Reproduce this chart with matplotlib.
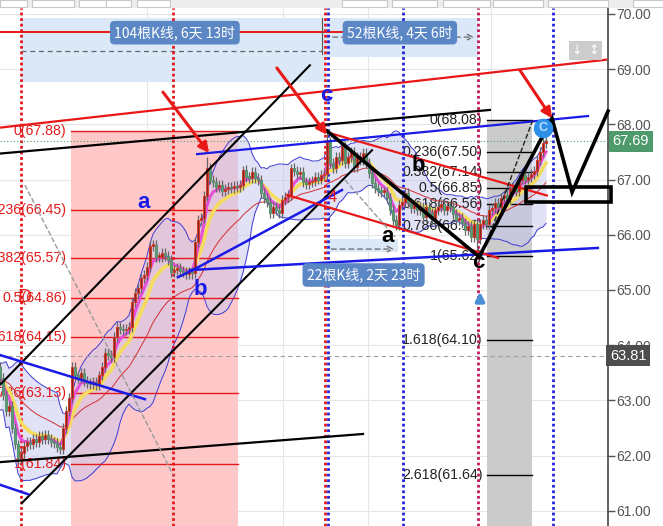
import matplotlib
matplotlib.use('Agg')
import matplotlib.pyplot as plt
import matplotlib.transforms as mtransforms
from matplotlib.patches import Rectangle
import numpy as np
import pandas as pd

plt.rcParams['font.family'] = ['Liberation Sans', 'DejaVu Sans']
CJK = ['Noto Sans CJK SC', 'DejaVu Sans']

# ---------------- data (bar index, price) ----------------
closes = [
    63.40, 63.10, 62.80, 62.90, 62.50, 62.20, 61.95, 62.05, 62.18, 62.25,
    62.20, 62.30, 62.25, 62.35, 62.30, 62.38, 62.30, 62.25, 62.22, 62.15,
    62.12, 62.50, 62.80, 63.05, 63.60, 63.45, 63.40, 63.50, 63.35, 63.32,
    63.30, 63.33, 63.28, 63.45, 63.60, 63.85, 63.82, 63.78, 64.15, 64.33,
    64.30, 64.27, 64.30, 64.32, 64.78, 64.94, 65.04, 65.21, 65.27, 65.42,
    65.80, 65.82, 65.60, 65.60, 65.67, 65.62, 65.55, 65.33, 65.36, 65.40,
    65.35, 65.32, 65.28, 65.33, 65.30, 65.87, 66.26, 66.30, 66.70, 67.20,
    67.00, 66.95, 66.87, 66.90, 66.80, 66.82, 66.86, 66.84, 66.88, 66.86,
    66.90, 67.17, 67.05, 67.03, 67.13, 67.03, 66.99, 66.75, 66.66, 66.60,
    66.39, 66.50, 66.45, 66.40, 66.63, 66.69, 66.72, 67.20, 67.15, 67.10,
    67.13, 66.95, 66.92, 66.95, 66.98, 67.04, 67.00, 67.08, 67.10, 67.68,
    67.30, 67.20, 67.40, 67.35, 67.60, 67.30, 67.40, 67.50, 67.23, 67.40,
    67.35, 67.48, 67.30, 67.12, 66.93, 66.85, 66.80, 66.78, 66.78, 66.67,
    66.45, 66.27, 66.18, 66.54, 66.60, 66.75, 66.57, 66.48, 66.53, 66.44,
    66.50, 66.32, 66.50, 66.40, 66.27, 66.45, 66.50, 66.56, 66.45, 66.52,
    66.50, 66.38, 66.27, 66.30, 66.22, 66.08, 66.15, 65.96, 66.20, 65.92,
    66.20, 66.27, 66.20, 66.45, 66.48, 66.57, 66.50, 66.67, 66.72, 66.65,
    66.85, 66.87, 66.80, 67.00, 67.08, 67.00, 67.05, 67.10, 67.15, 67.35,
    67.50, 67.66, 67.69,
]
first_open = 63.60
special_highs = {69: 67.40, 81: 67.25, 97: 67.28, 109: 67.88, 181: 67.80, 182: 68.08}
special_lows = {6: 61.84, 64: 65.20, 90: 66.30, 132: 66.08, 159: 65.62}

price_ticks = [61, 62, 63, 64, 65, 66, 67, 68, 69, 70]
last_price = 67.69
ref_price = 63.81

fib_left_prices = [67.88, 66.45, 65.57, 64.86, 64.15, 63.13, 61.84]
fib_left_labels = ['0(67.88)', '0.236(66.45)', '0.382(65.57)', '0.5(64.86)',
                   '0.618(64.15)', '0.786(63.13)', '1(61.84)']
fib_right_prices = [68.08, 67.50, 67.14, 66.85, 66.56, 66.15, 65.62, 64.10, 61.64]
fib_right_labels = ['0(68.08)', '0.236(67.50)', '0.382(67.14)', '0.5(66.85)',
                    '0.618(66.56)', '0.786(66.15)', '1(65.62)', '1.618(64.10)',
                    '2.618(61.64)']

# ---------------- figure ----------------
W, H = 663, 526
fig = plt.figure(figsize=(W / 100, H / 100), dpi=100)
fig.patch.set_facecolor('white')
ax = fig.add_axes([0, 0, 607.7 / W, 518 / H])
XMAX = 202.57
ax.set_xlim(0, XMAX)
ax.set_ylim(60.723, 70.107)

# toolbar strip at top
fig.patches.append(Rectangle((0, 518 / H), 1, 8 / H, transform=fig.transFigure,
                             facecolor='#ededed', edgecolor='none', zorder=0))
for a, b in [(0, 27), (32, 74), (79, 106), (106, 131), (137, 170), (342, 387),
             (392, 437), (443, 490), (493, 543), (548, 608), (633, 663)]:
    fig.patches.append(Rectangle((a / W, 519 / H), (b - a) / W, 7 / H,
                                 transform=fig.transFigure, facecolor='white',
                                 edgecolor='#c8c8c8', lw=0.8, zorder=1))

# grid
for v in price_ticks:
    ax.axhline(v, color='#e6e6e6', lw=0.8, zorder=0.5)
for gx in [49.0, 94.3, 122.7, 163.7]:
    ax.axvline(gx, color='#e6e6e6', lw=0.8, zorder=0.5)

# top measurement boxes
ax.add_patch(Rectangle((7, 68.77), 101.7, 1.16, facecolor='#dbe8f7', edgecolor='none', zorder=1))
ax.add_patch(Rectangle((108.7, 69.22), 50.6, 0.71, facecolor='#dbe8f7', edgecolor='none', zorder=1))
ax.plot([0, 115], [69.68, 69.68], color='#e81818', lw=1.4, zorder=3)
ax.plot([7, 107.3], [69.33, 69.33], color='#666666', lw=0.9, ls=(0, (4, 3)), zorder=3)
ax.plot([107.3, 107.3], [69.93, 69.28], color='#555555', lw=0.8, zorder=3)
ax.annotate('', xy=(159, 69.58), xytext=(110, 69.58), zorder=3,
            arrowprops=dict(arrowstyle='->', ls=(0, (4, 3)), color='#666666', lw=0.9))
ax.text(58.3, 69.66, '104根K线, 6天 13时', family=CJK, color='white', fontsize=10,
        ha='center', va='center', zorder=8,
        bbox=dict(boxstyle='round,pad=0.32', fc='#5b87c5', ec='none'))
ax.text(133.3, 69.66, '52根K线, 4天 6时', family=CJK, color='white', fontsize=10,
        ha='center', va='center', zorder=8,
        bbox=dict(boxstyle='round,pad=0.32', fc='#5b87c5', ec='none'))

# icons
ax.text(192.3, 69.34, '↓', family=['DejaVu Sans'], color='white', fontsize=9,
        ha='center', va='center', zorder=8,
        bbox=dict(boxstyle='square,pad=0.25', fc='#cccccc', ec='none'))
ax.text(197.9, 69.34, '↕', family=['DejaVu Sans'], color='white', fontsize=9,
        ha='center', va='center', zorder=8,
        bbox=dict(boxstyle='square,pad=0.25', fc='#cccccc', ec='none'))

# left fib (red) with pink zone
ax.add_patch(Rectangle((23.7, 60.72), 55.6, 67.88 - 60.72, facecolor='#ffc8c8',
                       edgecolor='none', zorder=1))
for p, lab in zip(fib_left_prices, fib_left_labels):
    ax.plot([23.7, 79.3], [p, p], color='#e31a1a', lw=1.0, zorder=3)
    ax.text(22.2, p, lab, color='#e31a1a', fontsize=10.2, ha='right', va='center', zorder=3)
ax.text(8.3, 64.86, 'D', color='#e31a1a', fontsize=14, ha='center', va='center', zorder=8)

# right fib (black) with grey zone
ax.add_patch(Rectangle((162.3, 60.72), 15.0, 68.08 - 60.72, facecolor='#cbcbcb',
                       edgecolor='none', zorder=1))
for p, lab in zip(fib_right_prices, fib_right_labels):
    ax.plot([162.3, 177.3], [p, p], color='black', lw=1.0, zorder=3)
    ax.text(160.8, p, lab, color='#222222', fontsize=10.2, ha='right', va='center', zorder=3)

# 22-bar measurement
ax.add_patch(Rectangle((108.7, 65.69), 24.0, 0.23, facecolor='#dbe8f7', edgecolor='none', zorder=1))
ax.annotate('', xy=(132.3, 65.74), xytext=(109.5, 65.74), zorder=3,
            arrowprops=dict(arrowstyle='->', ls=(0, (4, 3)), color='#666666', lw=0.9))
ax.text(121.2, 65.27, '22根K线, 2天 23时', family=CJK, color='white', fontsize=10,
        ha='center', va='center', zorder=8,
        bbox=dict(boxstyle='round,pad=0.32', fc='#5b87c5', ec='none'))

# ---------------- candles & indicators ----------------
c = np.array(closes)
n = len(c)
idx = np.arange(n)
o = np.r_[first_open, c[:-1]]
hi = np.maximum(o, c) + 0.09
lo = np.minimum(o, c) - 0.09
for k, v in special_highs.items():
    hi[k] = v
for k, v in special_lows.items():
    lo[k] = v

s = pd.Series(c)
mid = s.rolling(20, min_periods=2).mean().bfill()
sd = s.rolling(20, min_periods=2).std().bfill()
upper = mid + 2 * sd
lower = mid - 2 * sd
ax.fill_between(idx, lower, upper, color='#c6c6ee', alpha=0.5, lw=0, zorder=2)
ax.plot(idx, upper, color='#3c3cd2', lw=0.7, zorder=2.5)
ax.plot(idx, lower, color='#3c3cd2', lw=0.7, zorder=2.5)

ma_slow = s.ewm(span=26, adjust=False).mean()
ma_mid = s.ewm(span=10, adjust=False).mean()
ma_fast = s.ewm(span=5, adjust=False).mean()
ax.plot(idx, ma_slow, color='#d23030', lw=0.7, zorder=4.2)
ax.plot(idx, ma_mid, color='#f6dc5c', lw=2.6, zorder=4.3)
ax.plot(idx, ma_fast, color='#e84fd8', lw=2.2, zorder=4.4)

ax.vlines(idx, lo, hi, color='#666666', lw=0.9, zorder=5)
up = c >= o
bottom = np.minimum(o, c)
height = np.maximum(np.abs(c - o), 0.025)
ax.bar(idx[up], height[up], bottom=bottom[up], width=0.82, color='#7a2a20',
       edgecolor='#d83a2c', lw=0.7, zorder=5.5)
ax.bar(idx[~up], height[~up], bottom=bottom[~up], width=0.82, color='#5c9c74',
       edgecolor='#4f8c66', lw=0.6, zorder=5.5)

# vertical dotted markers
for vx, col in [(7.0, '#e8161b'), (57.7, '#e8161b'), (108.5, '#e8161b'),
                (109.4, '#2424e0'), (134.3, '#2424e0'), (159.3, '#c2185b'),
                (184.3, '#2424e0')]:
    ax.axvline(vx, color=col, lw=2.0, ls=(0, (1, 1)), zorder=4)

ax.axhline(last_price, color='#4f9a6b', lw=0.8, ls=(0, (1, 2)), zorder=4)
ax.axhline(ref_price, color='#a0a0a0', lw=0.8, ls=(0, (4, 3)), zorder=4)

# ---------------- trend lines ----------------
trend_lines = [
    ((0, 67.94), (202, 69.17), '#e81818', 1.6, '-'),
    ((0, 67.47), (163.3, 68.26), 'black', 1.6, '-'),
    ((65.7, 67.46), (196, 68.15), '#1a1ae6', 1.6, '-'),
    ((0, 63.28), (103.3, 69.07), 'black', 1.5, '-'),
    ((7.3, 61.14), (124, 67.53), 'black', 1.5, '-'),
    ((0, 61.88), (121, 62.39), 'black', 1.6, '-'),
    ((0, 63.82), (48.3, 63.02), '#1a1ae6', 1.8, '-'),
    ((0, 61.47), (9.3, 61.30), '#1a1ae6', 1.8, '-'),
    ((59.3, 65.23), (64.3, 65.36), '#1a1ae6', 1.8, '-'),
    ((64.3, 65.36), (114, 66.81), '#1a1ae6', 1.8, '-'),
    ((63.3, 65.36), (199.3, 65.76), '#1a1ae6', 1.8, '-'),
    ((110, 67.84), (182.3, 66.71), '#e81818', 1.6, '-'),
    ((95.7, 66.72), (166, 65.58), '#e81818', 1.6, '-'),
    ((8.3, 66.90), (57.7, 61.65), '#999999', 1.0, '--'),
    ((115, 66.99), (131.7, 65.96), '#999999', 1.0, '--'),
    ((160.5, 65.62), (177.5, 68.06), '#222222', 1.0, '--'),
]
for (x0, y0), (x1, y1), col, lw, ls in trend_lines:
    ax.plot([x0, x1], [y0, y1], color=col, lw=lw, ls=ls, zorder=6)

# ABC zigzag + projection
zig_x = [109.0, 159.7, 184.0, 190.7, 202.7]
zig_y = [67.88, 65.60, 68.11, 66.77, 68.24]
ax.plot(zig_x, zig_y, color='black', lw=2.6, zorder=6.5, clip_on=False,
        solid_joinstyle='miter')
ax.add_patch(Rectangle((175.3, 66.59), 28.4, 0.27, fill=False, edgecolor='black',
                       lw=2.6, zorder=6.5, clip_on=False))

# red arrows
for (x0, y0), (x1, y1) in [((54.3, 68.585), (69.7, 67.48)),
                           ((92.3, 69.02), (109.0, 67.81)),
                           ((173.3, 68.98), (184.0, 68.11))]:
    ax.annotate('', xy=(x1, y1), xytext=(x0, y0), zorder=7,
                arrowprops=dict(arrowstyle='-|>', color='#e81818', lw=2.2,
                                mutation_scale=15, shrinkA=0, shrinkB=0))

# wave labels
for x, y, t, col in [(47.7, 66.59, 'a', '#1a1ae6'), (66.7, 65.0, 'b', '#1a1ae6'),
                     (108.7, 68.53, 'c', '#1a1ae6'), (129.3, 65.96, 'a', 'black'),
                     (139.3, 67.26, 'b', 'black'), (159.3, 65.49, 'c', 'black')]:
    ax.text(x, y, t, color=col, fontsize=16, fontweight='bold', ha='center',
            va='center', zorder=8)
ax.text(110.7, 66.67, '4', color='#e81818', fontsize=12, ha='center', va='center', zorder=8)
ax.plot([181], [67.93], 'o', ms=13, color='#2d8fe8', zorder=8)
ax.text(181, 67.93, 'C', color='#bfe0ff', fontsize=9, fontweight='bold',
        ha='center', va='center', zorder=8.5)
ax.annotate('', xy=(160, 65.02), xytext=(160, 64.74), zorder=8,
            arrowprops=dict(arrowstyle='-|>', color='#4a8fd8', lw=2.6, mutation_scale=13))

# ---------------- axes styling ----------------
for side in ['top', 'left', 'bottom']:
    ax.spines[side].set_visible(False)
ax.spines['right'].set_color('#444444')
ax.spines['right'].set_linewidth(1.2)
ax.set_xticks([])
ax.yaxis.tick_right()
ax.set_yticks(price_ticks)
ax.set_yticklabels([f'{v:.2f}' for v in price_ticks])
ax.tick_params(axis='y', colors='#555555', labelsize=10, length=5, width=1, pad=1.5)

trans = mtransforms.blended_transform_factory(ax.transAxes, ax.transData)
ax.text(1.008, last_price, f'{last_price:.2f}', transform=trans, color='white',
        fontsize=10.5, ha='left', va='center', zorder=9, clip_on=False,
        bbox=dict(boxstyle='square,pad=0.25', fc='#4f9a6b', ec='none'))
ax.text(1.004, ref_price, f'{ref_price:.2f}', transform=trans, color='white',
        fontsize=10.5, ha='left', va='center', zorder=9, clip_on=False,
        bbox=dict(boxstyle='square,pad=0.25', fc='#4d4d4d', ec='none'))

fig.savefig('out.png', dpi=100)
